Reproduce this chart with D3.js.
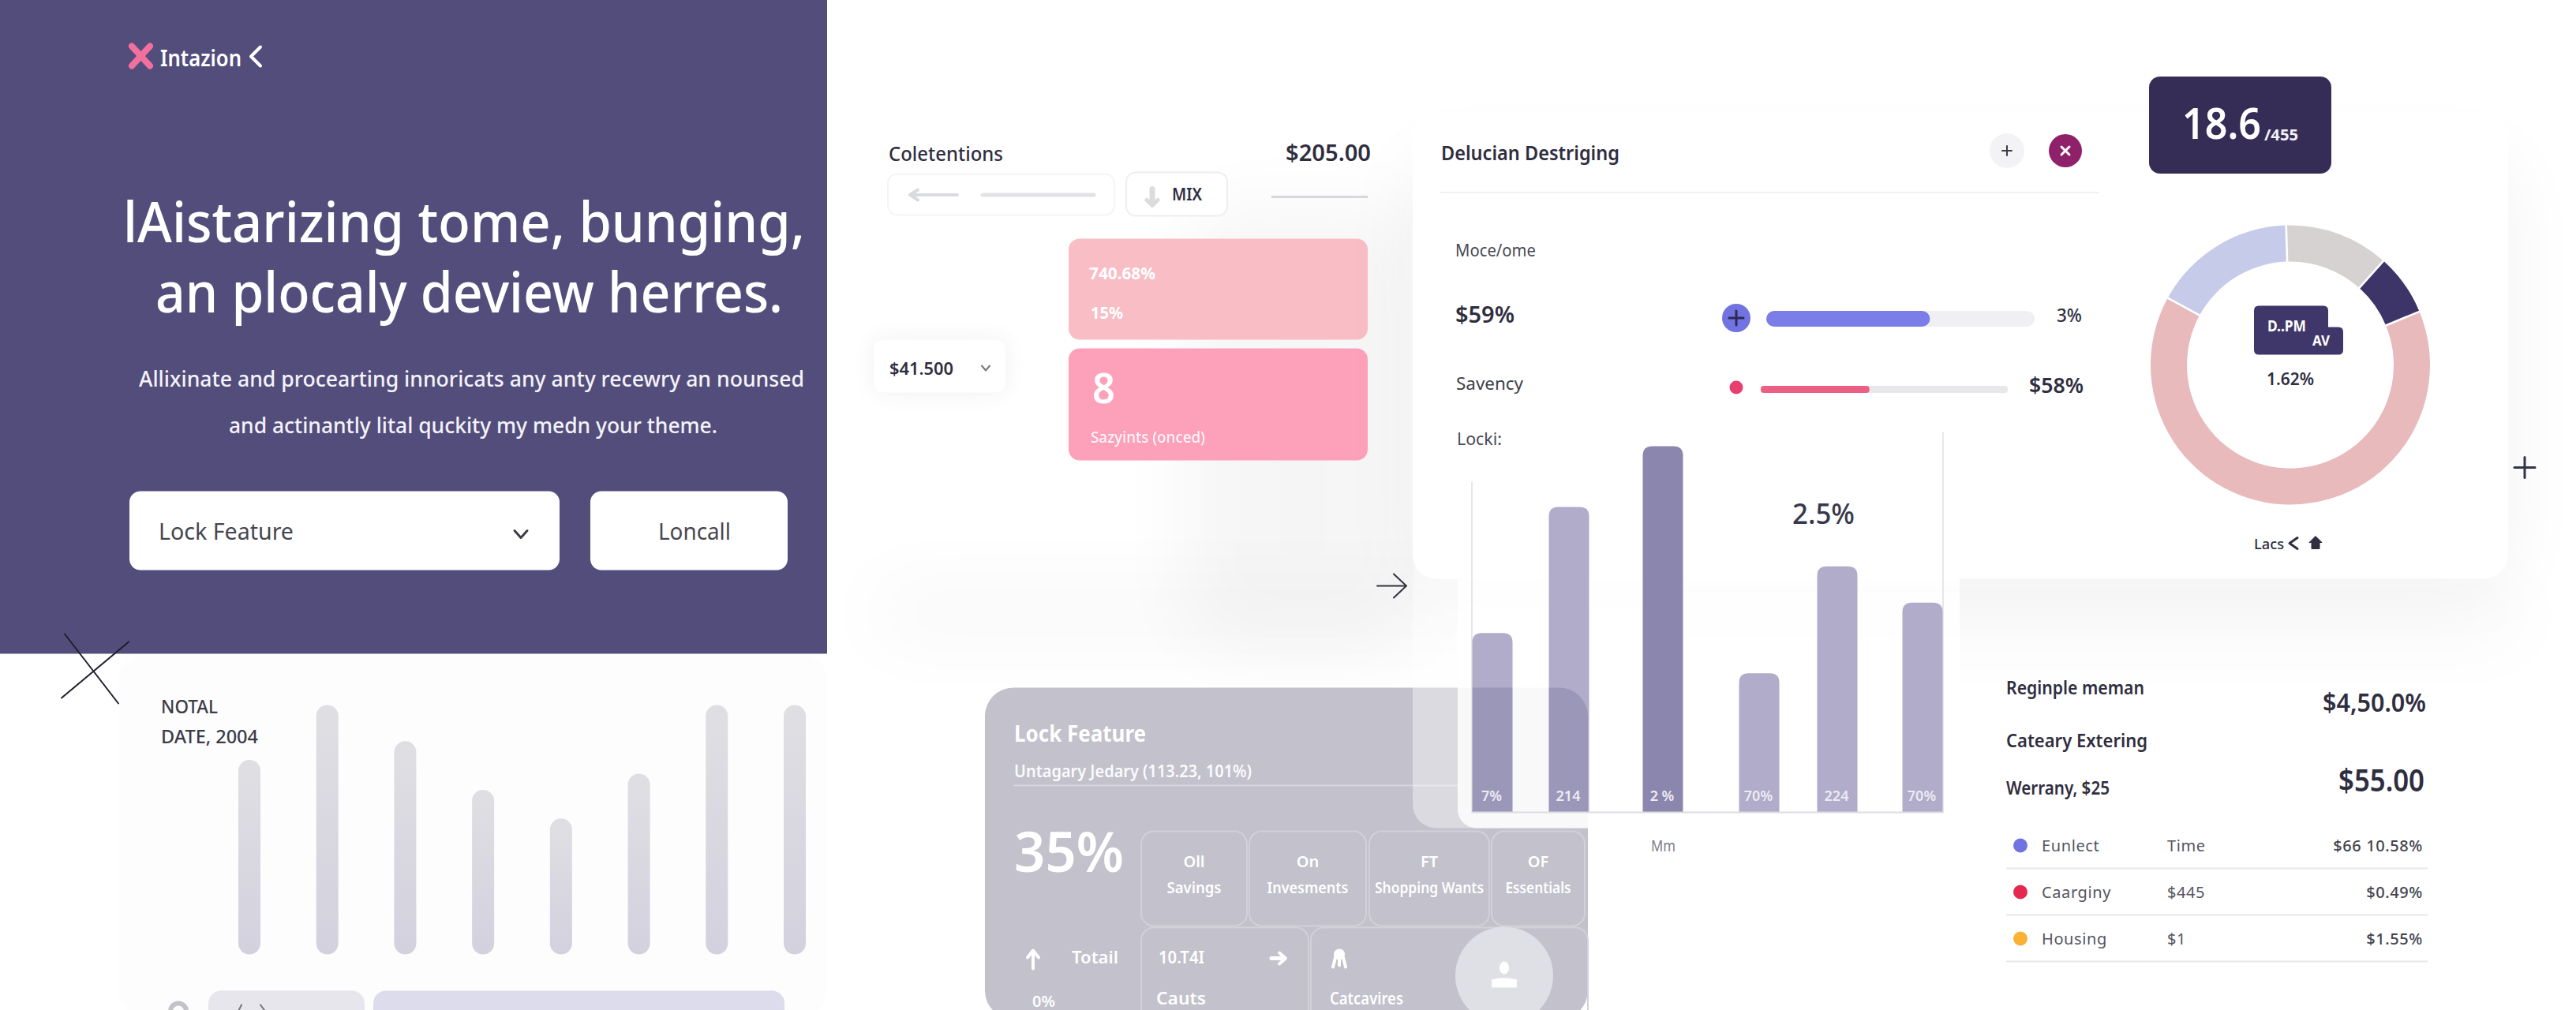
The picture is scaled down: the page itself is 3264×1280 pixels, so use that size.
<!DOCTYPE html>
<html><head><meta charset="utf-8">
<script src="https://cdn.jsdelivr.net/npm/d3@7"></script>
<style>html,body{margin:0;padding:0;background:#fff;overflow:hidden}svg{display:block}text{font-family:"Noto Sans",Lato,sans-serif}</style>
</head><body>
<svg id="c" width="3264" height="1280" viewBox="0 -1.5 3264 1280"></svg>
<script>
// ---- data ----
const stripCategories = ["a","b","c","d","e","f","g","h"];
const stripValues = [78, 100, 85.5, 66, 54.5, 72.5, 100, 100];
const barCategories = ["b1","b2","b3","b4","b5","b6"];
const barValues = [49, 83.4, 100, 38, 67.2, 57.3];
const barLabels = ["7%","214","2 %","70%","224","70%"];
const donutNames = ["Gray","Navy","Pink","Lavender"];
const donutValues = [12, 7, 64.5, 16.5];
const progressValues = [61, 44];
const tableNames = ["Eunlect","Caarginy","Housing"];
const tableMids = ["Time","$445","$1"];
const tableRights = ["$66 10.58%","$0.49%","$1.55%"];
const tileTop = ["Oll","On","FT","OF"];
const tileBottom = ["Savings","Invesments","Shopping Wants","Essentials"];

const svg = d3.select("#c");
const defs = svg.append("defs");
const blur = (id, s) => defs.append("filter").attr("id", id)
  .attr("x","-60%").attr("y","-80%").attr("width","220%").attr("height","260%")
  .append("feGaussianBlur").attr("stdDeviation", s);
blur("b60", 50); blur("b20", 16);
const grad = defs.append("linearGradient").attr("id","strip").attr("x1",0).attr("x2",0).attr("y1",0).attr("y2",1);
grad.append("stop").attr("offset",0).attr("stop-color","#dfdfe3");
grad.append("stop").attr("offset",1).attr("stop-color","#d3d1de");
defs.append("clipPath").attr("id","grayClip").append("rect")
  .attr("x",1248).attr("y",870).attr("width",764).attr("height",420).attr("rx",36);

function t(g, s, x, y, size, fill, o = {}) {
  const e = g.append("text").attr("x", x).attr("y", y).attr("font-size", size)
    .attr("fill", fill).attr("font-weight", o.w || 400).text(s);
  if (o.len) e.attr("textLength", o.len).attr("lengthAdjust", "spacingAndGlyphs");
  if (o.a) e.attr("text-anchor", o.a);
  if (o.op) e.attr("opacity", o.op);
  return e;
}
function rr(g, x, y, w, h, r, fill, o = {}) {
  const e = g.append("rect").attr("x",x).attr("y",y).attr("width",w).attr("height",h).attr("rx",r).attr("fill",fill);
  if (o.stroke) e.attr("stroke",o.stroke).attr("stroke-width",o.sw||2);
  if (o.filter) e.attr("filter",`url(#${o.filter})`);
  if (o.op) e.attr("opacity",o.op);
  return e;
}
function p(g, d, stroke, sw, fill) {
  return g.append("path").attr("d",d).attr("fill",fill||"none").attr("stroke",stroke||"none")
    .attr("stroke-width",sw||0).attr("stroke-linecap","round").attr("stroke-linejoin","round");
}
const DARK = "#2f2e3f";

// ---- background ----
rr(svg,0,-5,3264,1290,0,"#ffffff");

// ---- hero panel ----
const hero = svg.append("g");
rr(hero,0,-5,1048,832,0,"#534d7c");
rr(hero,150,830,898,455,30,"#fdfdfd");
const logo = hero.append("g").attr("transform","translate(0,-2)");
p(logo,"M167 59L190 84M190 59L167 84","#f2709c",8);
t(logo,"Intazion",203,84,28,"#fff",{w:600,len:103});
p(logo,"M330 60L318 72L330 84","#fff",4);
t(hero,"lAistarizing tome, bunging,",156,305,70,"#fff",{w:500,len:864});
t(hero,"an plocaly deview herres.",197,394,70,"#fff",{w:500,len:795});
t(hero,"Allixinate and procearting innoricats any anty recewry an nounsed",176,488,27,"#f4f3f8",{w:500,len:843});
t(hero,"and actinantly lital quckity my medn your theme.",290,547,27,"#f4f3f8",{w:500,len:619});
rr(hero,164,621,545,100,14,"#fff");
rr(hero,748,621,250,100,14,"#fff");
t(hero,"Lock Feature",201,682,29,"#46464f",{len:171});
p(hero,"M652 671L660 680L668 671","#3d3d46",3);
t(hero,"Loncall",834,682,29,"#46464f",{len:92});
p(svg,"M82 802L150 890M163 812L78 883","#1f1d2c",2);

// ---- strip chart ----
const stripX = d3.scalePoint().domain(stripCategories).range([316,1007]);
const stripY = d3.scaleLinear().domain([0,100]).range([1208,892]);
svg.append("g").selectAll("rect").data(stripValues).join("rect")
  .attr("x",(d,i)=>stripX(stripCategories[i])-14).attr("width",28)
  .attr("y",d=>stripY(d)).attr("height",d=>stripY(0)-stripY(d)).attr("rx",14).attr("fill","url(#strip)");
t(svg,"NOTAL",204,902,23,"#3c3b47",{w:500,len:72});
t(svg,"DATE, 2004",204,940,23,"#3c3b47",{w:500,len:123});
rr(svg,264,1254,198,40,16,"#e6e6ec");
rr(svg,473,1254,521,40,16,"#dcdcec");
svg.append("circle").attr("cx",226).attr("cy",1280).attr("r",10).attr("fill","none").attr("stroke","#c4c4c8").attr("stroke-width",6);
p(svg,"M302 1280L306 1272M330 1272L336 1280","#777",2);

// ---- soft shadows ----
rr(svg,1500,260,300,560,60,"#000",{filter:"b60",op:.035});
rr(svg,1100,740,2100,70,35,"#000",{filter:"b60",op:.03});

// ---- left mid ----
const mid = svg.append("g");
const midTop = mid.append("g").attr("transform","translate(0,-2)");
t(midTop,"Coletentions",1126,204,25,DARK,{w:500,len:145});
t(midTop,"$205.00",1629,204,29,DARK,{w:600,len:108});
rr(midTop,1125,221,287,52,12,"#fff",{stroke:"#f4f4f6"});
p(midTop,"M1213 247.5H1155M1163 241L1153 247.5L1163 254","#dadbdf",4);
p(midTop,"M1245 247.5H1386","#e3e3e7",5);
rr(midTop,1427,219,128,55,12,"#fff",{stroke:"#eeeef1"});
p(midTop,"M1460 240V258","#dcdcdf",7);
p(midTop,"M1453 254L1460 261L1467 254","#dcdcdf",5);
t(midTop,"MIX",1485,254,22,DARK,{w:600,len:38});
p(midTop,"M1612 250H1732","#d8d8dc",3);
rr(mid,1107,429,167,67,12,"#000",{filter:"b20",op:.06});
rr(mid,1107,429,167,67,12,"#fff");
t(mid,"$41.500",1127,473,22,DARK,{w:600,len:81});
p(mid,"M1244 462L1249 468L1254 462","#77777f",2);
rr(mid,1354,301,379,128,14,"#f8bdc5");
t(mid,"740.68%",1380,352,21,"#fff",{w:700,len:84});
t(mid,"15%",1382,402,21,"#fff",{w:700,len:41});
rr(mid,1354,440,379,142,14,"#fda1bb");
t(mid,"8",1384,509,52,"#fff",{w:600,len:29});
t(mid,"Sazyints (onced)",1382,559,19,"#fff",{w:500,len:145,op:.9});
p(svg,"M1745 741L1780 741M1766 726L1782 741L1766 756","#33323f",2);

// ---- gray lock feature card ----
const gc = svg.append("g");
rr(gc,1248,870,764,420,36,"#c2c1cc");
t(gc,"Lock Feature",1285,938,29,"#fff",{w:700,len:167});
t(gc,"Untagary Jedary (113.23, 101%)",1285,983,22,"#fbfbfd",{w:600,len:301});
p(gc,"M1285 994H1850","#d7d6de",2);
t(gc,"35%",1285,1103,70,"#fff",{w:600,len:139});
const tileEdges = [[1446,134],[1583,148],[1735,152],[1890,118]];
const tileLabelW = [69,103,138,83];
tileEdges.forEach((e,i)=>{
  rr(gc,e[0],1052,e[1],120,16,"none",{stroke:"#d2d1da"});
  t(gc,tileTop[i],e[0]+e[1]/2,1097,20,"#fff",{w:600,a:"middle"});
  t(gc,tileBottom[i],e[0]+e[1]/2,1130,20,"#fff",{w:600,a:"middle",len:tileLabelW[i]});
});
rr(gc,1446,1174,212,140,16,"none",{stroke:"#d2d1da"});
rr(gc,1661,1174,351,140,16,"none",{stroke:"#d2d1da"});
p(gc,"M1309 1226V1204M1302 1212L1309 1203L1316 1212","#fff",4);
t(gc,"Totail",1358,1219,22,"#fff",{w:600,len:59});
t(gc,"0%",1308,1274,20,"#fff",{w:600,len:29});
t(gc,"10.T4I",1468,1219,22,"#fff",{w:600,len:58});
p(gc,"M1611 1213H1624",  "#fff",5);
p(gc,"M1621 1206L1629 1213L1621 1220","#fff",4);
gc.append("circle").attr("cx",1697).attr("cy",1208).attr("r",7).attr("fill","#fff");
p(gc,"M1692 1212L1689 1224M1702 1212L1705 1224M1697 1212V1222","#fff",4);
t(gc,"Cauts",1465,1271,22,"#fff",{w:600,len:63});
t(gc,"Catcavires",1685,1271,22,"#fff",{w:600,len:93});
gc.append("circle").attr("cx",1906).attr("cy",1235).attr("r",62).attr("fill","#dfdfe6");
gc.append("ellipse").attr("cx",1906).attr("cy",1225).attr("rx",6).attr("ry",8).attr("fill","#fff");
p(gc,"M1890 1250V1240L1900 1238H1912L1922 1240V1250Z",null,0,"#fff");

// ---- main card ----
const mc = svg.append("g");
rr(mc,1790,200,1388,540,30,"#23233c",{filter:"b60",op:.05});
rr(mc,1790,141,1388,591,30,"#ffffff");
// translucent layers over gray card
rr(mc,1790,700,300,348,30,"#fff",{op:.4});
rr(mc,1847,547,636,501,24,"#fff",{op:.82});
const mt = mc.append("g").attr("transform","translate(0,-1.5)");
t(mt,"Delucian Destriging",1826,203,26,DARK,{w:600,len:226});
mt.append("circle").attr("cx",2543).attr("cy",191).attr("r",22).attr("fill","#f3f3f5");
p(mt,"M2537 191H2549M2543 185V197","#3c3c48",2);
mt.append("circle").attr("cx",2617).attr("cy",191).attr("r",21).attr("fill","#8e2169");
p(mt,"M2612 186L2622 196M2622 186L2612 196","#fff",3);
p(mt,"M1826 244H2659","#f1f1f3",2);
t(mt,"Moce/ome",1844,325,21,"#4a4a55",{len:102});
t(mt,"$59%",1844,409,29,DARK,{w:600,len:75});
t(mt,"Savency",1845,494,22,"#3f3f4a",{len:85});
t(mt,"Locki:",1846,564,22,"#4a4a55",{len:57});
t(mt,"3%",2606,408,24,DARK,{w:500,len:32});
t(mt,"$58%",2571,498,27,DARK,{w:600,len:69});
// progress bars
const p1 = d3.scaleLinear().domain([0,100]).range([2238,2578]);
const p2 = d3.scaleLinear().domain([0,100]).range([2231,2544]);
rr(mt,2238,394,340,20,10,"#f0f0f2");
rr(mt,2238,394,p1(progressValues[0])-p1(0),20,10,"#7b7de8");
rr(mt,2231,489,313,9,4,"#e8e8ec");
rr(mt,2231,489,p2(progressValues[1])-p2(0),9,4,"#ec5f85");
mt.append("circle").attr("cx",2200).attr("cy",403).attr("r",18).attr("fill","#7173e0");
p(mt,"M2191 403H2209M2200 394V412","#2b2b55",3);
mt.append("circle").attr("cx",2200).attr("cy",491).attr("r",8.5).attr("fill","#e8406e");

// ---- main bar chart ----
const bx = d3.scaleOrdinal().domain(barCategories).range([1891,1988,2107,2229,2328,2436]);
const by = d3.scaleLinear().domain([0,100]).range([1028,564]);
const barW = 51;
const barPath = (d,i) => {
  const l = bx(barCategories[i]) - barW/2, r = l + barW, y0 = by(0), y1 = by(d), c = 12;
  return `M${l} ${y0}V${y1+c}Q${l} ${y1} ${l+c} ${y1}H${r-c}Q${r} ${y1} ${r} ${y1+c}V${y0}Z`;
};
const maxV = d3.max(barValues);
p(svg,"M1865 610V1028M2462 547V1028","#e7e7ea",2);
svg.append("g").selectAll("path").data(barValues).join("path")
  .attr("d",barPath).attr("fill",d=>d===maxV?"#8b86ad":"#b0acc9");
svg.append("g").attr("clip-path","url(#grayClip)").selectAll("path").data(barValues).join("path")
  .attr("d",barPath).attr("fill","#4c4678").attr("opacity",.2);
p(svg,"M1866 1028H2462","#dcdce2",2);
svg.append("g").selectAll("text").data(barLabels).join("text")
  .attr("x",(d,i)=>bx(barCategories[i])-1).attr("y",1013).attr("text-anchor","middle")
  .attr("font-size",18).attr("fill","#ecebf3").attr("font-weight",600).text(d=>d);
t(svg,"2.5%",2271,662,36,"#38384a",{w:500,len:79});
t(svg,"Mm",2092,1077,20,"#7d7d85",{len:31});

// ---- donut ----
const dk = svg.append("g").attr("transform","translate(2902,461)");
const dColor = d3.scaleOrdinal().domain(donutNames).range(["#d6d2d2","#3d3568","#e8babb","#c7cbea"]);
const pie = d3.pie().sort(null).startAngle(-0.03).endAngle(2*Math.PI-0.03).padAngle(0.012);
const arc = d3.arc().innerRadius(131).outerRadius(177);
dk.selectAll("path").data(pie(donutValues)).join("path")
  .attr("d",arc).attr("fill",(d,i)=>dColor(donutNames[i]));
rr(svg,2723,95.5,231,123,14,"#352d55");
t(svg,"18.6",2765,174.5,54,"#fff",{w:600,len:100});
t(svg,"/455",2869,176.5,20,"#f1f0f6",{w:700,len:43});
p(svg,"M2862 386H2944Q2950 386 2950 392V413H2963Q2969 413 2969 419V442Q2969 448 2963 448H2862Q2856 448 2856 442V392Q2856 386 2862 386Z",null,0,"#3f3769");
t(svg,"D..PM",2873,418,19,"#fff",{w:700,len:49});
t(svg,"AV",2930,436,18,"#fff",{w:700,len:22});
t(svg,"1.62%",2872,486,21,DARK,{w:600,len:60});
t(svg,"Lacs",2856,694,18,DARK,{w:500,len:38});
p(svg,"M2911 680L2901 687L2911 694",DARK,3);
p(svg,"M2926 686L2934 678L2942 686H2939V694H2929V686Z",DARK,1,DARK);
p(svg,"M3186 591H3212M3199 578V604","#33334a",3);

// ---- table ----
const tb = svg.append("g");
t(tb,"Reginple meman",2542,878,24,DARK,{w:600,len:175});
t(tb,"$4,50.0%",2943,900,32,DARK,{w:600,len:131});
t(tb,"Cateary Extering",2542,945,24,DARK,{w:600,len:179});
t(tb,"Werrany, $25",2542,1005,24,DARK,{w:600,len:131});
t(tb,"$55.00",2963,1001,40,DARK,{w:600,len:109});
const rowY = d3.scalePoint().domain(tableNames).range([1070,1188]);
const dotC = d3.scaleOrdinal().domain(tableNames).range(["#7173e0","#e4284f","#f9b233"]);
const rows = tb.selectAll("g.r").data(tableNames).join("g").attr("class","r");
rows.append("circle").attr("cx",2560).attr("cy",d=>rowY(d)).attr("r",9).attr("fill",d=>dotC(d));
rows.append("text").attr("x",2587).attr("y",d=>rowY(d)+7).attr("font-size",20).attr("letter-spacing",.6).attr("fill","#55555f").text(d=>d);
rows.append("text").attr("x",2746).attr("y",(d)=>rowY(d)+7).attr("font-size",20).attr("letter-spacing",.6).attr("fill","#55555f").text((d,i)=>tableMids[i]);
rows.append("text").attr("x",3070).attr("y",(d)=>rowY(d)+7).attr("font-size",20).attr("letter-spacing",.6).attr("font-weight",500).attr("text-anchor","end").attr("fill","#44444e").text((d,i)=>tableRights[i]);
rows.append("path").attr("d",d=>`M2542 ${rowY(d)+29}H3076`).attr("stroke","#e8e8ea").attr("stroke-width",2);
</script>
</body></html>
